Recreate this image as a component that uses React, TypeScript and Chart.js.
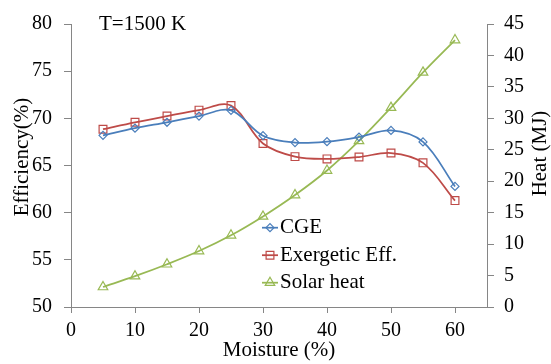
import React, { useEffect, useRef } from 'react';
import { Chart, registerables } from 'chart.js';
import { drawPoint } from 'chart.js/helpers';

Chart.register(...registerables);

const moisture = [5, 10, 15, 20, 25, 30, 35, 40, 45, 50, 55, 60];
const cgeValues = [68.2, 68.96, 69.58, 70.24, 70.85, 68.16, 67.43, 67.53, 68.02, 68.72, 67.5, 62.78];
const exergeticValues = [68.85, 69.58, 70.24, 70.87, 71.35, 67.33, 65.94, 65.7, 65.9, 66.32, 65.28, 61.28];
const solarHeatValues = [3.18, 4.9, 6.8, 8.9, 11.4, 14.4, 17.8, 21.7, 26.4, 31.7, 37.3, 42.45];

const xTicks = [0, 10, 20, 30, 40, 50, 60];
const effTicks = [50, 55, 60, 65, 70, 75, 80];
const heatTicks = [0, 5, 10, 15, 20, 25, 30, 35, 40, 45];

const seriesNames = ['CGE', 'Exergetic Eff.', 'Solar heat'];
const titleText = 'T=1500 K';
const xTitle = 'Moisture (%)';
const yTitle = 'Efficiency(%)';
const y1Title = 'Heat (MJ)';

const FONT = '"Liberation Serif", "Times New Roman", serif';
const AXIS = '#868686';
const BLUE = '#4A7EBB';
const RED = '#BE4B48';
const GREEN = '#98B954';

const textPlugin = {
  id: 'textPlugin',
  afterDraw(chart: any) {
    const ctx = chart.ctx as CanvasRenderingContext2D;
    ctx.save();
    ctx.fillStyle = '#000';
    ctx.font = `21px ${FONT}`;
    ctx.textAlign = 'left';
    ctx.textBaseline = 'alphabetic';
    ctx.fillText(titleText, 99, 30);

    // vertical axis titles
    ctx.textAlign = 'center';
    ctx.textBaseline = 'middle';
    ctx.save();
    ctx.translate(22, 157);
    ctx.rotate(-Math.PI / 2);
    ctx.fillText(yTitle, 0, 0);
    ctx.restore();
    ctx.save();
    ctx.translate(540.5, 153.5);
    ctx.rotate(-Math.PI / 2);
    ctx.fillText(y1Title, 0, 0);
    ctx.restore();

    // legend
    const ys = [227.7, 255.2, 282.7];
    chart.data.datasets.forEach((ds: any, i: number) => {
      const y = ys[i];
      ctx.strokeStyle = ds.borderColor;
      ctx.lineWidth = 1.75;
      ctx.beginPath();
      ctx.moveTo(262, y);
      ctx.lineTo(278, y);
      ctx.stroke();
      ctx.fillStyle = 'rgba(0,0,0,0)';
      ctx.lineWidth = 1.2;
      drawPoint(ctx, { pointStyle: ds.pointStyle, radius: ds.pointRadius, borderWidth: 1.2, rotation: 0 } as any, 270, y);
      ctx.fillStyle = '#000';
      ctx.textAlign = 'left';
      ctx.textBaseline = 'middle';
      ctx.fillText(ds.label, 280, y);
    });
    ctx.restore();
  },
};

export default function App() {
  const ref = useRef<HTMLCanvasElement | null>(null);

  useEffect(() => {
    document.body.style.margin = '0';
    const canvas = ref.current;
    if (!canvas) return;
    const toPts = (vals: number[]) => vals.map((v, i) => ({ x: moisture[i], y: v }));
    const tickFont = { family: FONT, size: 20 };
    const chart = new Chart(canvas, {
      type: 'line',
      data: {
        datasets: [
          {
            label: seriesNames[0],
            data: toPts(cgeValues),
            yAxisID: 'y',
            borderColor: BLUE,
            backgroundColor: 'rgba(0,0,0,0)',
            borderWidth: 1.75,
            pointStyle: 'rectRot',
            pointRadius: 4,
            pointBorderWidth: 1.2,
            pointBorderColor: BLUE,
            pointBackgroundColor: 'rgba(0,0,0,0)',
            tension: 0.35,
          },
          {
            label: seriesNames[1],
            data: toPts(exergeticValues),
            yAxisID: 'y',
            borderColor: RED,
            backgroundColor: 'rgba(0,0,0,0)',
            borderWidth: 1.75,
            pointStyle: 'rect',
            pointRadius: 5.5,
            pointBorderWidth: 1.2,
            pointBorderColor: RED,
            pointBackgroundColor: 'rgba(0,0,0,0)',
            tension: 0.35,
          },
          {
            label: seriesNames[2],
            data: toPts(solarHeatValues),
            yAxisID: 'y1',
            borderColor: GREEN,
            backgroundColor: 'rgba(0,0,0,0)',
            borderWidth: 1.75,
            pointStyle: 'triangle',
            pointRadius: 5.5,
            pointBorderWidth: 1.2,
            pointBorderColor: GREEN,
            pointBackgroundColor: 'rgba(0,0,0,0)',
            tension: 0.35,
          },
        ],
      },
      options: {
        responsive: false,
        animation: false,
        layout: { padding: { top: 19, left: 0, right: 0, bottom: 0 } },
        plugins: {
          legend: { display: false },
          title: { display: false },
          tooltip: { enabled: false },
        },
        scales: {
          x: {
            type: 'linear',
            min: 0,
            max: 65,
            afterBuildTicks: (s: any) => {
              s.ticks = xTicks.map((v) => ({ value: v }));
            },
            afterFit: (s: any) => {
              s.height = 57;
            },
            ticks: { font: tickFont, color: '#000', padding: 6, maxRotation: 0 },
            grid: { drawOnChartArea: false, drawTicks: true, tickLength: 6, color: AXIS },
            border: { color: AXIS, width: 1 },
            title: { display: true, text: xTitle, font: { family: FONT, size: 21 }, color: '#000', padding: { top: 0, bottom: 1 } },
          },
          y: {
            type: 'linear',
            position: 'left',
            min: 50,
            max: 80,
            afterBuildTicks: (s: any) => {
              s.ticks = effTicks.map((v) => ({ value: v }));
            },
            afterFit: (s: any) => {
              s.width = 71;
            },
            ticks: { font: tickFont, color: '#000', padding: 12 },
            grid: { drawOnChartArea: false, drawTicks: true, tickLength: 7, color: AXIS },
            border: { color: AXIS, width: 1 },
          },
          y1: {
            type: 'linear',
            position: 'right',
            min: 0,
            max: 45,
            afterBuildTicks: (s: any) => {
              s.ticks = heatTicks.map((v) => ({ value: v }));
            },
            afterFit: (s: any) => {
              s.width = 64;
            },
            ticks: { font: tickFont, color: '#000', padding: 10 },
            grid: { drawOnChartArea: false, drawTicks: true, tickLength: 7, color: AXIS },
            border: { color: AXIS, width: 1 },
          },
        },
      },
      plugins: [textPlugin],
    } as any);
    return () => chart.destroy();
  }, []);

  return (
    <div style={{ width: 551, height: 364 }}>
      <canvas ref={ref} width={551} height={364} />
    </div>
  );
}
